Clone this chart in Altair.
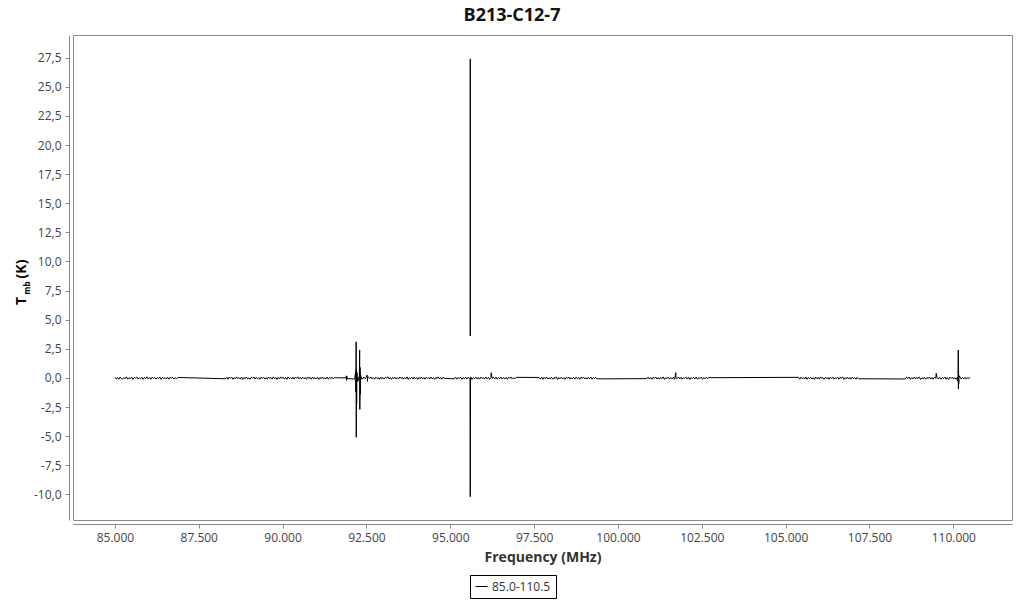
import altair as alt
import pandas as pd

TITLE = "B213-C12-7"
SERIES = "85.0-110.5"

# Observed spectral windows (MHz): start, end
SEG_START = [85000, 88300, 92350, 95120, 97650, 100860, 105385, 108570]
SEG_END = [86875, 91550, 94820, 96965, 99375, 102710, 107170, 110500]

# Baseline noise (K)
NOISE_1 = [0.06, -0.09, 0.03, -0.12, 0.08, -0.05, -0.1, 0.04, -0.07, 0.09, -0.11, 0.02, -0.06,
           0.07, -0.13, 0.05, -0.03, 0.08, -0.1, 0.01, -0.08, 0.06, -0.12, 0.04, -0.05, 0.09,
           -0.09, 0.03, -0.11, 0.07, -0.04, 0.05, -0.1, 0.02, -0.07, 0.08, -0.12, 0.04, -0.06,
           0.03, -0.09, 0.07, -0.11, 0.05, -0.02, 0.06, -0.1, 0.03, -0.08, 0.04]
NOISE_2 = [-0.07, 0.05, -0.11, 0.08, -0.04, 0.06, -0.12, 0.03, -0.08, 0.09, -0.05, 0.02, -0.1,
           0.07, -0.13, 0.04, -0.06, 0.08, -0.09, 0.01, -0.11, 0.06, -0.03, 0.09, -0.1, 0.05,
           -0.07, 0.03, -0.12, 0.08, -0.04, 0.06, -0.09, 0.02, -0.11, 0.07, -0.05, 0.04, -0.1,
           0.09, -0.06, 0.03, -0.13, 0.05, -0.08, 0.07, -0.02, 0.06, -0.1, 0.04, -0.12, 0.08,
           -0.05, 0.02, -0.09, 0.07, -0.11, 0.05, -0.03, 0.09, -0.08, 0.04, -0.1, 0.06, -0.06,
           0.03, -0.12, 0.08, -0.04, 0.05, -0.11, 0.07, -0.07, 0.02, -0.09, 0.06, -0.13, 0.04,
           -0.05, 0.08, -0.1, 0.03, -0.08, 0.07, -0.11, 0.05, -0.04, 0.06, -0.09, 0.02]
NOISE_3 = [0.05, -0.1, 0.08, -0.06, 0.03, -0.12, 0.07, -0.04, 0.09, -0.09, 0.02, -0.11, 0.06,
           -0.05, 0.04, -0.13, 0.08, -0.07, 0.03, -0.1, 0.06, -0.03, 0.1, -0.08, 0.04, -0.12,
           0.05, -0.06, 0.07, -0.1, 0.02, -0.09, 0.08, -0.04, 0.05, -0.11, 0.03, -0.07, 0.09,
           -0.12, 0.04, -0.05, 0.06, -0.1, 0.07, -0.08, 0.03, -0.13, 0.05, -0.06, 0.08, -0.09,
           0.02, -0.11, 0.06, -0.04, 0.04, -0.1, 0.07, -0.07, 0.03, -0.12, 0.05, -0.05, 0.09,
           -0.09, 0.04, -0.11, 0.06, -0.03]
NOISE_4 = [-0.08, 0.06, -0.11, 0.04, -0.05, 0.08, -0.12, 0.03, -0.07, 0.07, -0.1, 0.05, -0.04,
           0.09, -0.13, 0.02, -0.06, 0.06, -0.09, 0.04, -0.11, 0.07, -0.05, 0.03, -0.1, 0.08,
           -0.07, 0.05, -0.12, 0.02, -0.04, 0.06, -0.09, 0.07, -0.11, 0.03, -0.06, 0.08, -0.1,
           0.04, -0.08, 0.05, -0.12, 0.06, -0.03, 0.07, -0.1, 0.02, -0.07, 0.05]
NOISE_5 = [0.04, -0.09, 0.07, -0.12, 0.05, -0.06, 0.08, -0.1, 0.02, -0.08, 0.06, -0.11, 0.03,
           -0.05, 0.09, -0.13, 0.04, -0.07, 0.07, -0.09, 0.02, -0.12, 0.06, -0.04, 0.08, -0.1,
           0.03, -0.08, 0.05, -0.11, 0.07, -0.06, 0.04, -0.12, 0.06, -0.03, 0.08, -0.09, 0.02,
           -0.1, 0.05, -0.07, 0.07, -0.11, 0.03, -0.05, 0.06, -0.08]
NOISE_6 = [-0.06, 0.07, -0.1, 0.04, -0.12, 0.06, -0.04, 0.08, -0.09, 0.03, -0.11, 0.05, -0.07,
           0.09, -0.13, 0.02, -0.05, 0.07, -0.1, 0.04, -0.08, 0.06, -0.12, 0.03, -0.06, 0.08,
           -0.09, 0.05, -0.11, 0.02, -0.04, 0.07, -0.1, 0.06, -0.13, 0.04, -0.07, 0.05, -0.09,
           0.08, -0.11, 0.03, -0.05, 0.06, -0.12, 0.04, -0.08, 0.07, -0.06, 0.02]
NOISE_7 = [0.05, -0.11, 0.07, -0.06, 0.03, -0.1, 0.08, -0.12, 0.04, -0.05, 0.06, -0.09, 0.02,
           -0.13, 0.07, -0.07, 0.05, -0.1, 0.09, -0.04, 0.03, -0.11, 0.06, -0.08, 0.04, -0.12,
           0.07, -0.05, 0.08, -0.1, 0.02, -0.07, 0.06, -0.11, 0.05, -0.03, 0.09, -0.12, 0.03,
           -0.08, 0.07, -0.09, 0.04, -0.1, 0.06, -0.06, 0.02, -0.11, 0.05, -0.07]
NOISE_8 = [-0.09, 0.06, -0.04, 0.08, -0.12, 0.03, -0.07, 0.07, -0.1, 0.05, -0.05, 0.09, -0.13,
           0.02, -0.08, 0.06, -0.11, 0.04, -0.06, 0.08, -0.1, 0.03, -0.12, 0.07, -0.04, 0.05,
           -0.09, 0.06, -0.11, 0.02, -0.07, 0.08, -0.1, 0.04, -0.13, 0.06, -0.05, 0.07, -0.09,
           0.03, -0.12, 0.05, -0.06, 0.08, -0.1, 0.04, -0.08, 0.06, -0.11, 0.03, -0.05, 0.07]
NOISE = [NOISE_1, NOISE_2, NOISE_3, NOISE_4, NOISE_5, NOISE_6, NOISE_7, NOISE_8]

# Line features (MHz, K)
FEAT_FREQ = [91890, 91900, 91908, 91915, 91925,
             92150, 92180, 92188, 92193, 92197, 92202, 92208, 92215, 92240,
             92290, 92298, 92303, 92310, 92318, 92325, 92340,
             92520, 92530, 92540,
             95590, 95595, 95600, 96220,
             101725,
             109490, 110140, 110148, 110152, 110156, 110162, 110170]
FEAT_TMB = [0.0, 0.18, -0.2, 0.15, -0.05,
            -0.1, 0.6, -1.2, 3.1, -5.1, 0.8, -2.2, 0.5, -0.3,
            0.2, 2.4, -2.7, 0.9, -1.4, 0.3, -0.1,
            0.25, -0.3, 0.1,
            0.0, -10.2, 0.05, 0.45,
            0.45,
            0.4, -0.3, 2.4, -0.95, 0.6, -0.5, 0.2]

# Upper part of the strong line, drawn as its own path
PEAK_FREQ = [95594, 95596, 95598]
PEAK_TMB = [3.6, 27.4, 3.6]

rows = []
for s, e, vals in zip(SEG_START, SEG_END, NOISE):
    step = (e - s) / (len(vals) - 1)
    for i, v in enumerate(vals):
        rows.append({"freq": s + i * step, "tmb": v, "piece": 0, "series": SERIES})
for f, t in zip(FEAT_FREQ, FEAT_TMB):
    rows.append({"freq": f, "tmb": t, "piece": 0, "series": SERIES})
for f, t in zip(PEAK_FREQ, PEAK_TMB):
    rows.append({"freq": f, "tmb": t, "piece": 1, "series": SERIES})
df = pd.DataFrame(rows).sort_values(["piece", "freq"]).reset_index(drop=True)

FONT = "Open Sans"

line = alt.Chart(df).mark_line(strokeWidth=1, clip=True).encode(
    x=alt.X("freq:Q",
            scale=alt.Scale(domain=[83750, 111750], nice=False, zero=False),
            axis=alt.Axis(title="Frequency (MHz)", values=list(range(85000, 110001, 2500)),
                          labelExpr="replace(format(datum.value, ',.0f'), ',', '.')",
                          offset=4, titlePadding=7)),
    y=alt.Y("tmb:Q",
            scale=alt.Scale(domain=[-12.2, 29.45], nice=False, zero=False),
            axis=alt.Axis(title=None, values=[v / 10 for v in range(-100, 276, 25)],
                          labelExpr="replace(replace(format(datum.value, '.1f'), '.', ','), '\u2212', '-')",
                          offset=4)),
    color=alt.Color("series:N", scale=alt.Scale(range=["black"]),
                    legend=alt.Legend(title=None, orient="none", legendX=397, legendY=540,
                                      strokeColor="black", padding=5, symbolType="stroke",
                                      symbolSize=144, symbolStrokeWidth=1,
                                      symbolStrokeColor="#666",
                                      labelFontSize=12, labelFont=FONT, labelColor="#333")),
    detail="piece:N",
    order="freq:Q",
)

title_text = alt.Chart(pd.DataFrame({"t": [TITLE]})).mark_text(
    font=FONT, fontSize=18, fontWeight="bold", color="#111", align="center", baseline="middle"
).encode(text="t:N", x=alt.value(439), y=alt.value(-19))

t1 = alt.Chart(pd.DataFrame({"t": ["T"]})).mark_text(
    angle=270, font=FONT, fontSize=14, fontWeight="bold", align="center", baseline="middle"
).encode(text="t:N", x=alt.value(-51), y=alt.value(266))
t2 = alt.Chart(pd.DataFrame({"t": ["mb"]})).mark_text(
    angle=270, font=FONT, fontSize=8, fontWeight="bold", align="center", baseline="middle"
).encode(text="t:N", x=alt.value(-45), y=alt.value(253))
t3 = alt.Chart(pd.DataFrame({"t": ["(K)"]})).mark_text(
    angle=270, font=FONT, fontSize=14, fontWeight="bold", align="center", baseline="middle"
).encode(text="t:N", x=alt.value(-51), y=alt.value(234))

chart = alt.layer(line, title_text, t1, t2, t3).properties(
    width=939, height=485,
    autosize="none",
    padding={"left": 65, "top": 27, "right": 4, "bottom": 80},
).configure_view(stroke="#888", strokeWidth=1).configure_axis(
    labelFont=FONT, labelFontSize=12, labelColor="#444", titleFont=FONT, titleFontSize=14,
    titleFontWeight="bold", titleColor="#333", domainColor="#888", tickColor="#888",
    tickSize=4, grid=False, labelPadding=4
)

chart.save("out.html", embed_options={"renderer": "svg", "actions": False})
